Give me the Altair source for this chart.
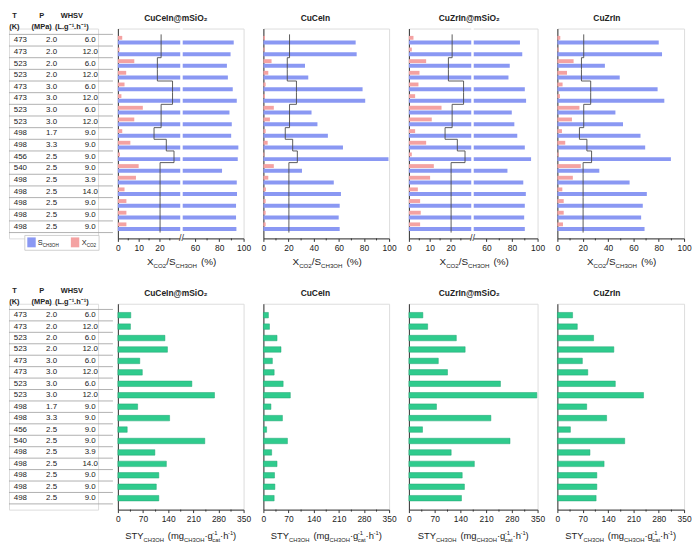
import altair as alt
import pandas as pd

FONT = "Liberation Sans"

# ---------------- data ----------------
T_K = [473, 473, 523, 523, 473, 473, 523, 523, 498, 498, 456, 540, 498, 498, 498, 498, 498]
P_MPA = [2.0, 2.0, 2.0, 2.0, 3.0, 3.0, 3.0, 3.0, 1.7, 3.3, 2.5, 2.5, 2.5, 2.5, 2.5, 2.5, 2.5]
WHSV = [6.0, 12.0, 6.0, 12.0, 6.0, 12.0, 6.0, 12.0, 9.0, 9.0, 9.0, 9.0, 3.9, 14.0, 9.0, 9.0, 9.0]

CATS = ["CuCeIn@mSiO₂", "CuCeIn", "CuZrIn@mSiO₂", "CuZrIn"]

S_CH3OH = {
    "CuCeIn@mSiO₂": [91.9, 89.3, 86.3, 87.1, 91.1, 94.4, 88.4, 90.3, 89.8, 95.7, 95.2, 82.3, 94.4, 94.6, 93.8, 93.8, 94.1],
    "CuCeIn": [73.4, 74.2, 33.1, 35.7, 78.9, 81.0, 38.3, 43.0, 51.3, 63.3, 99.5, 30.7, 56.0, 61.7, 60.7, 59.9, 60.7],
    "CuZrIn@mSiO₂": [86.2, 88.0, 78.2, 77.2, 90.0, 91.0, 79.8, 81.8, 84.1, 90.0, 94.9, 76.4, 88.8, 90.8, 90.0, 89.5, 90.0],
    "CuZrIn": [80.0, 82.6, 37.5, 49.2, 79.1, 84.4, 45.8, 51.8, 65.6, 69.3, 89.6, 33.1, 57.0, 70.6, 67.4, 66.1, 68.8],
}
X_CO2 = {
    "CuCeIn@mSiO₂": [2.1, 0.8, 7.9, 4.0, 3.2, 1.7, 12.0, 7.9, 2.1, 6.0, 1.0, 10.0, 8.7, 3.2, 4.1, 4.1, 4.1],
    "CuCeIn": [1.3, 1.0, 6.5, 3.9, 1.8, 1.3, 8.3, 5.2, 1.8, 3.4, 0.8, 8.3, 3.9, 2.0, 1.8, 1.8, 1.8],
    "CuZrIn@mSiO₂": [2.2, 1.4, 8.3, 5.1, 4.6, 3.0, 15.7, 11.0, 3.0, 8.3, 1.4, 12.0, 10.2, 4.3, 5.4, 5.7, 5.4],
    "CuZrIn": [2.3, 1.0, 12.8, 7.6, 4.1, 2.0, 17.4, 11.5, 3.6, 6.2, 1.0, 18.5, 12.2, 3.9, 5.0, 5.0, 4.4],
}
X_EQ = [20.8, 20.8, 19.0, 19.0, 26.3, 26.3, 20.8, 20.8, 17.4, 23.3, 27.0, 20.3, 20.3, 20.3, 20.3, 20.3, 20.3]
STY = {
    "CuCeIn@mSiO₂": [36, 35, 131, 138, 61, 68, 206, 269, 55, 144, 26, 242, 103, 135, 114, 107, 114],
    "CuCeIn": [14, 17, 38, 49, 25, 30, 55, 75, 21, 53, 9, 67, 23, 38, 31, 32, 30],
    "CuZrIn@mSiO₂": [38, 51, 129, 153, 80, 105, 249, 348, 75, 223, 37, 275, 115, 178, 145, 151, 143],
    "CuZrIn": [42, 55, 100, 156, 69, 84, 160, 238, 81, 136, 36, 186, 90, 129, 109, 109, 107],
}

TOP_MAJOR_LIN = [0, 20, 40, 60, 80, 100]
TOP_MINOR_LIN = [10, 30, 50, 70, 90]
TOP_MAJOR_BRK = [0, 10, 20, 60, 80, 100]
TOP_MINOR_BRK = [5, 15, 25, 70, 90]
BOT_MAJOR = [0, 70, 140, 210, 280, 350]
BOT_MINOR = [35, 105, 175, 245, 315]

# ---------------- layout / style ----------------
N = len(T_K)
ROWS = list(range(1, N + 1))
HT, HB = 212, 208
WT = 90
WIDTHS = [127, 127, 130, 128]
TITLE_DX = [-5, -11, -4, -14]
BROKEN = [True, False, True, False]

BLUE = "#8a98f3"
RED = "#f4a2a2"
GREEN = "#2fcb8d"
AX = "#333333"
TXT = "#222222"

ONE = pd.DataFrame({"k": [0]})

W_REG = {" ": 278, "(": 333, ")": 333, "%": 889, "/": 278, "·": 278, "-": 333, ".": 278,
         "C": 722, "H": 722, "O": 778, "S": 667, "T": 611, "X": 667, "Y": 667,
         "a": 556, "c": 500, "g": 556, "h": 556, "m": 833, "t": 278}


def tw(s, size):
    return sum(W_REG.get(c, 556) for c in s) * size / 1000.0


def tl(x, y, s, size, color=TXT, weight="normal", align="left", baseline="alphabetic"):
    return alt.Chart(ONE).mark_text(
        text=s, fontSize=size, fontWeight=weight, align=align, baseline=baseline,
        color=color, font=FONT
    ).encode(x=alt.value(x), y=alt.value(y))


def rich(parts, F, x0, base, center=True, color=TXT):
    """Text with sub/superscripts built from pieces; ('gap', px) adds blank space."""
    sub = 0.62 * F
    widths = []
    for p in parts:
        if p[0] == "n":
            widths.append(tw(p[1], F))
        elif p[0] in ("sub", "sup"):
            widths.append(tw(p[1], sub))
        elif p[0] == "gap":
            widths.append(p[1])
        else:
            widths.append(max(tw(p[1], sub), tw(p[2], sub)))
    x = x0 - sum(widths) / 2 if center else x0
    out = []
    for p, w in zip(parts, widths):
        if p[0] == "n":
            out.append(tl(x, base, p[1], F, color))
        elif p[0] == "sub":
            out.append(tl(x, base + 0.3 * F, p[1], sub, color))
        elif p[0] == "sup":
            out.append(tl(x, base - 0.42 * F, p[1], sub, color))
        elif p[0] == "subsup":
            out.append(tl(x, base + 0.3 * F, p[1], sub, color))
            out.append(tl(x, base - 0.42 * F, p[2], sub, color))
        x += w
    return out


TOP_TITLE = [("n", "X"), ("sub", "CO2"), ("n", "/S"), ("sub", "CH3OH"), ("gap", 4), ("n", "(%)")]
BOT_TITLE = [("n", "STY"), ("sub", "CH3OH"), ("gap", 4), ("n", "(mg"), ("sub", "CH3OH"), ("n", "·g"),
             ("subsup", "cat", "-1"), ("n", "·h"), ("sup", "-1"), ("n", ")")]


def row_scale():
    return alt.Scale(domain=[0, 18], reverse=True, nice=False, zero=False)


# ---------------- table ----------------
def table(H, legend):
    ys = row_scale()
    xs = alt.Scale(domain=[0, WT], nice=False, zero=False)

    def X(f):
        return alt.X(f, scale=xs, axis=None)

    def Y(f):
        return alt.Y(f, scale=ys, axis=None)

    lines = pd.DataFrame({"yb": [i + 0.5 for i in range(0, N + 1)]})
    lines["xa"] = 0
    lines["xb"] = 105
    rules = alt.Chart(lines).mark_rule(color="#9c9c9c", strokeWidth=0.8).encode(
        x=X("xa:Q"), x2="xb:Q", y=Y("yb:Q"))

    tdf = pd.DataFrame({
        "row": ROWS,
        "tv": [str(v) for v in T_K],
        "pv": [f"{v:.1f}" for v in P_MPA],
        "wv": [f"{v:.1f}" for v in WHSV],
    })
    tdf["ct"] = 11.5
    tdf["cp"] = 43.0
    tdf["cw"] = 82.0
    layers = [rules]
    for fld, cx in (("tv", "ct"), ("pv", "cp"), ("wv", "cw")):
        layers.append(alt.Chart(tdf).mark_text(fontSize=8, color=TXT, baseline="middle", font=FONT).encode(
            x=X(f"{cx}:Q"), y=Y("row:Q"), text=f"{fld}:N"))

    hdr = pd.DataFrame({
        "hx": [5.5, 33.0, 63.5, 5.5, 33.0, 63.5],
        "hy": [-1.09, -1.09, -1.09, -0.16, -0.16, -0.16],
        "ht": ["T", "P", "WHSV", "(K)", "(MPa)", "(L.g⁻¹.h⁻¹)"],
    })
    layers.append(alt.Chart(hdr).mark_text(fontSize=7.5, fontWeight="bold", color=TXT,
                                           baseline="middle", font=FONT).encode(
        x=X("hx:Q"), y=Y("hy:Q"), text="ht:N"))

    if legend:
        def box(x1, x2, y1, y2, fill, stroke=None):
            kw = dict(color=fill)
            if stroke:
                kw = dict(fill=fill, stroke=stroke, strokeWidth=0.8)
            return alt.Chart(ONE).mark_rect(**kw).encode(
                x=alt.value(x1), x2=alt.value(x2), y=alt.value(y1), y2=alt.value(y2))
        layers.append(box(16, 91, H - 3, H + 12, "white", "#c4c4c4"))
        layers.append(box(18.5, 27, H - 1, H + 9, BLUE))
        layers.append(box(62.5, 71, H - 1, H + 9, RED))
        layers += rich([("n", "S"), ("sub", "CH3OH")], 7.5, 29, H + 6.5, center=False)
        layers += rich([("n", "X"), ("sub", "CO2")], 7.5, 73.5, H + 6.5, center=False)

    return alt.layer(*layers).properties(width=WT, height=H)


# ---------------- panels ----------------
def panel(k, top):
    cat = CATS[k]
    W = WIDTHS[k]
    H = HT if top else HB
    ys = row_scale()
    yaxis = alt.Axis(labels=False, ticks=False, title=None, grid=False, domainColor=AX, domainWidth=1)
    if top and BROKEN[k]:
        xs = alt.Scale(domain=[0, 30, 50, 100], range=[0, 63, 65.5, W], nice=False, zero=False)
        majors, minors = TOP_MAJOR_BRK, TOP_MINOR_BRK
    elif top:
        xs = alt.Scale(domain=[0, 100], nice=False, zero=False)
        majors, minors = TOP_MAJOR_LIN, TOP_MINOR_LIN
    else:
        xs = alt.Scale(domain=[0, 350], nice=False, zero=False)
        majors, minors = BOT_MAJOR, BOT_MINOR
    xaxis = alt.Axis(values=majors, title=None, grid=False, tickSize=3, tickColor=AX, tickWidth=1,
                     domainColor=AX, domainWidth=1, labelFontSize=8.5, labelColor=TXT, labelPadding=2,
                     labelFlush=False, labelOverlap=False, format="d", labelFont=FONT)

    def X(f):
        return alt.X(f, scale=xs, axis=xaxis)

    def Y(f):
        return alt.Y(f, scale=ys, axis=yaxis)

    layers = []
    if top:
        bdf = pd.DataFrame({"row": ROWS, "v": S_CH3OH[cat]})
        bdf["x0"] = 0
        bdf["ylo"] = bdf["row"] + 0.03
        bdf["yhi"] = bdf["row"] + 0.37
        layers.append(alt.Chart(bdf).mark_rect(color=BLUE).encode(
            x=X("x0:Q"), x2="v:Q", y=Y("ylo:Q"), y2="yhi:Q"))
        rdf = pd.DataFrame({"row": ROWS, "v": X_CO2[cat]})
        rdf["x0"] = 0
        rdf["ylo"] = rdf["row"] - 0.37
        rdf["yhi"] = rdf["row"] - 0.04
        layers.append(alt.Chart(rdf).mark_rect(color=RED).encode(
            x=X("x0:Q"), x2="v:Q", y=Y("ylo:Q"), y2="yhi:Q"))
        pts = []
        for i, v in zip(ROWS, X_EQ):
            pts.append({"k": len(pts), "v": v, "yy": i - 0.5})
            pts.append({"k": len(pts), "v": v, "yy": i + 0.5})
        sdf = pd.DataFrame(pts)
        layers.append(alt.Chart(sdf).mark_line(color="#4a4a4a", strokeWidth=0.9).encode(
            x=X("v:Q"), y=Y("yy:Q"), order="k:Q"))
    else:
        gdf = pd.DataFrame({"row": ROWS, "v": STY[cat]})
        gdf["x0"] = 0
        gdf["ylo"] = gdf["row"] - 0.24
        gdf["yhi"] = gdf["row"] + 0.24
        layers.append(alt.Chart(gdf).mark_rect(fill=GREEN, stroke="#22a675", strokeWidth=0.5).encode(
            x=X("x0:Q"), x2="v:Q", y=Y("ylo:Q"), y2="yhi:Q"))

    mdf = pd.DataFrame({"m": minors})
    layers.append(alt.Chart(mdf).mark_rule(color=AX, strokeWidth=1).encode(
        x=X("m:Q"), y=alt.value(H), y2=alt.value(H + 2)))

    if top and BROKEN[k]:
        gap = pd.DataFrame({"a": [30], "b": [50], "c": [40]})
        layers.append(alt.Chart(gap).mark_rect(color="white").encode(
            x=X("a:Q"), x2="b:Q", y=alt.value(-2), y2=alt.value(H + 1.5)))
        layers.append(alt.Chart(gap).mark_text(text="//", fontSize=9, color=AX, baseline="middle",
                                               font=FONT).encode(x=X("c:Q"), y=alt.value(H - 0.5)))

    layers.append(tl(W / 2 + TITLE_DX[k], -10.7, cat, 8.5, weight="bold", align="center", baseline="middle"))
    if top:
        layers += rich(TOP_TITLE, 10, W / 2 + 1, H + 26.5)
    else:
        layers += rich(BOT_TITLE, 9.5, W / 2, H + 30)

    return alt.layer(*layers).properties(width=W, height=H)


charts = [table(HT, True)] + [panel(k, True) for k in range(4)] + \
         [table(HB, False)] + [panel(k, False) for k in range(4)]

chart = alt.concat(
    *charts, columns=5, spacing={"row": 66, "column": 20}, bounds="flush", align="each"
).properties(
    padding={"left": 0, "top": 0, "right": 0, "bottom": 0}
).configure_view(stroke=None).configure(font=FONT)

chart.save("out.html", embed_options={"renderer": "svg", "actions": False})
